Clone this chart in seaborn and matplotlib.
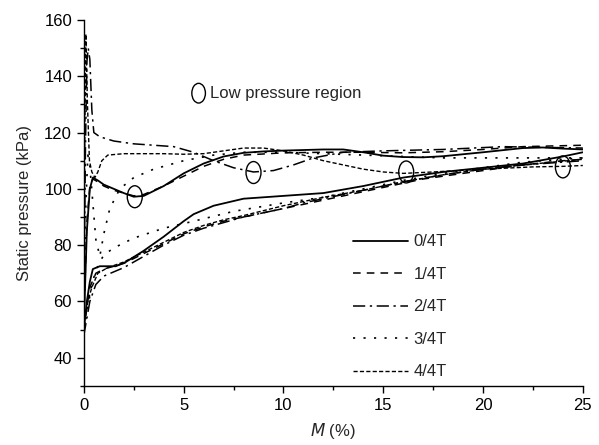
import numpy as np
import pandas as pd
import matplotlib
matplotlib.use("Agg")
import matplotlib.pyplot as plt
import seaborn as sns
from matplotlib.patches import Ellipse
from matplotlib.ticker import MultipleLocator

sns.set_theme(style="ticks")
plt.rcParams['font.family'] = ['Liberation Sans', 'DejaVu Sans']

series = ['0/4T', '1/4T', '2/4T', '3/4T', '4/4T']

# ---- 0/4T ----
up0_x = [0.0, 0.15, 0.3, 0.45, 0.7, 1.0, 1.5, 2.0, 2.5, 3.0, 4.0, 5.0, 6.0, 7.0, 8.0, 9.0, 10.0, 12.0, 13.0, 14.0, 15.0, 16.0, 17.0, 18.0, 20.0, 22.0, 23.0, 24.0, 25.0]
up0_y = [52, 85, 100, 104, 103, 101.5, 100, 98.5, 97.2, 97.5, 101, 105.5, 109, 111.5, 112.8, 113.3, 113.6, 114, 114, 113, 111.8, 111.3, 111.2, 111.6, 113, 114.5, 114.7, 114.3, 114]
lo0_x = [0.0, 0.15, 0.3, 0.45, 0.8, 1.6, 2.1, 3.0, 4.0, 5.0, 5.5, 6.5, 8.0, 10.0, 12.0, 14.0, 16.0, 18.0, 20.0, 22.0, 24.0, 25.0]
lo0_y = [50, 60, 67, 71.5, 72.5, 72.5, 74, 78, 83, 88.5, 91, 94, 96.5, 97.5, 98.5, 101, 104, 106, 107.5, 109, 111.5, 113]

# ---- 1/4T ----
up1_x = [0.0, 0.15, 0.3, 0.45, 0.7, 1.0, 1.5, 2.0, 2.5, 3.0, 4.0, 5.0, 6.0, 7.0, 8.0, 10.0, 12.0, 14.0, 16.0, 18.0, 20.0, 22.0, 25.0]
up1_y = [54, 88, 101, 103.5, 102.5, 101, 99.5, 98.5, 97.5, 98, 101, 104.5, 108, 110.5, 112, 112.8, 113, 113, 112.8, 113.2, 114, 115, 115.5]
lo1_x = [0.0, 0.3, 0.6, 1.0, 2.0, 3.0, 4.0, 5.0, 6.0, 7.0, 8.0, 9.0, 10.0, 11.0, 12.0, 13.0, 14.0, 15.0, 16.0, 17.0, 18.0, 20.0, 22.0, 24.0, 25.0]
lo1_y = [50, 65, 70, 71.5, 73.5, 77, 80.5, 84, 86.5, 88.5, 90, 91.5, 93, 94.5, 96, 97.5, 99, 100.5, 102, 103.5, 104.5, 106.5, 108.5, 110, 110.5]

# ---- 2/4T ----
up2_x = [0.0, 0.08, 0.15, 0.22, 0.3, 0.4, 0.5, 0.8, 1.5, 2.5, 3.5, 4.5, 5.5, 6.5, 7.5, 8.5, 9.5, 10.5, 11.5, 13.0, 15.0, 18.0, 21.0, 25.0]
up2_y = [60, 115, 145, 150, 146, 128, 120, 118.5, 117, 116, 115.5, 115, 113, 110, 107.5, 106, 106.5, 108.5, 111, 113, 113.5, 114, 115, 114.5]
lo2_x = [0.0, 0.3, 0.6, 1.0, 2.0, 3.0, 4.0, 5.0, 6.0, 7.0, 8.0, 9.0, 10.0, 11.0, 12.0, 13.0, 14.0, 15.0, 16.0, 18.0, 20.0, 22.0, 24.0, 25.0]
lo2_y = [48, 60, 66, 69, 72, 76, 80, 83.5, 86, 88, 90, 91.5, 93, 95, 96.5, 98, 99.5, 101, 102.5, 105, 107, 108.5, 109.5, 110]

# ---- 3/4T ----
up3_x = [0.0, 0.1, 0.2, 0.3, 0.45, 0.6, 0.8, 1.0, 1.3, 1.8, 2.5, 3.5, 5.0, 6.5, 8.0, 10.0, 12.0, 14.0, 16.0, 18.0, 20.0, 22.0, 25.0]
up3_y = [56, 95, 112, 108, 95, 82, 76, 84, 93, 100, 104, 107, 110, 112, 113, 113, 112.5, 112, 111.5, 111, 111, 111, 111]
lo3_x = [0.0, 0.2, 0.4, 0.6, 0.8, 1.0, 1.5, 2.5, 4.0, 5.5, 7.5, 10.0, 12.0, 14.0, 16.0, 18.0, 20.0, 22.0, 24.0, 25.0]
lo3_y = [50, 58, 66, 71, 74, 76.5, 79, 82.5, 86, 88.5, 92, 95, 97, 100, 103, 105.5, 107.5, 109.5, 110.5, 111]

# ---- 4/4T ----
up4_x = [0.0, 0.05, 0.1, 0.18, 0.28, 0.4, 0.55, 0.7, 0.9, 1.2, 2.0, 3.0, 4.0, 5.0, 6.0, 7.0, 8.0, 9.0, 10.0, 11.0, 12.0, 13.0, 14.0, 15.0, 16.0, 17.5, 20.0, 22.5, 24.0, 25.0]
up4_y = [58, 120, 155, 130, 110, 106, 104, 106, 110, 112, 112.5, 112.5, 112.5, 112.3, 112.5, 113.5, 114.5, 114.5, 113.5, 112, 110, 108.5, 107, 106, 105.5, 106, 107, 107.8, 108, 108.3]
lo4_x = [0.0, 0.2, 0.4, 0.7, 1.2, 2.0, 3.0, 4.0, 5.0, 6.0, 7.0, 8.0, 10.0, 12.0, 14.0, 16.0, 18.0, 20.0, 22.0, 25.0]
lo4_y = [52, 60, 65, 70, 72, 74, 77.5, 81, 84.5, 87, 89, 90.5, 94, 97, 99.5, 102.5, 105, 107, 108.5, 110.5]

# low pressure region markers
low_x = [2.55, 8.5, 16.15, 24.0]
low_y = [97.2, 105.8, 106.0, 107.8]

x_ticks = [0, 5, 10, 15, 20, 25]
y_ticks = [40, 60, 80, 100, 120, 140, 160]

curves = {
    '0/4T': [(up0_x, up0_y), (lo0_x, lo0_y)],
    '1/4T': [(up1_x, up1_y), (lo1_x, lo1_y)],
    '2/4T': [(up2_x, up2_y), (lo2_x, lo2_y)],
    '3/4T': [(up3_x, up3_y), (lo3_x, lo3_y)],
    '4/4T': [(up4_x, up4_y), (lo4_x, lo4_y)],
}
styles = {
    '0/4T': dict(linestyle='-', linewidth=1.3),
    '1/4T': dict(linestyle=(0, (5, 4)), linewidth=1.1),
    '2/4T': dict(linestyle=(0, (8, 3, 1.5, 3)), linewidth=1.1),
    '3/4T': dict(linestyle=(0, (1.3, 5)), linewidth=1.2),
    '4/4T': dict(linestyle=(0, (3, 1.6)), linewidth=1.0),
}

fig, ax = plt.subplots(figsize=(5.99, 4.45), dpi=100)
fig.subplots_adjust(left=0.140, right=0.973, top=0.955, bottom=0.133)

for s in series:
    for i, (xs, ys) in enumerate(curves[s]):
        df = pd.DataFrame({'M': xs, 'P': ys})
        sns.lineplot(data=df, x='M', y='P', ax=ax, color='black', sort=False,
                     estimator=None, label=s if i == 0 else None, **styles[s])

for lx, ly in zip(low_x, low_y):
    ax.add_patch(Ellipse((lx, ly), width=0.75, height=7.8, fill=False,
                         edgecolor='black', linewidth=1.0))

ax.add_patch(Ellipse((5.75, 134.0), width=0.68, height=7.0, fill=False,
                     edgecolor='black', linewidth=1.0))
ax.text(6.3, 134.0, 'Low pressure region', fontsize=12, va='center', ha='left')

ax.set_xlim(0, 25)
ax.set_ylim(30, 160)
ax.set_xticks(x_ticks)
ax.set_yticks(y_ticks)
ax.xaxis.set_minor_locator(MultipleLocator(2.5))
ax.yaxis.set_minor_locator(MultipleLocator(10))
ax.tick_params(axis='both', which='major', direction='out', length=5, width=1,
               labelsize=12, color='black', labelcolor='black')
ax.tick_params(axis='both', which='minor', direction='out', length=3, width=1,
               color='black')
for sp in ['top', 'right']:
    ax.spines[sp].set_visible(False)
for sp in ['left', 'bottom']:
    ax.spines[sp].set_color('black')
    ax.spines[sp].set_linewidth(1.0)

ax.set_xlabel(r'$\it{M}$ (%)', fontsize=12, labelpad=6)
ax.set_ylabel('Static pressure (kPa)', fontsize=12, labelpad=9)

ax.legend(loc='upper left', bbox_to_anchor=(0.51, 0.455), frameon=False,
          fontsize=12, handlelength=3.3, labelspacing=1.05, handletextpad=0.3)

fig.savefig('out.png', dpi=100)
